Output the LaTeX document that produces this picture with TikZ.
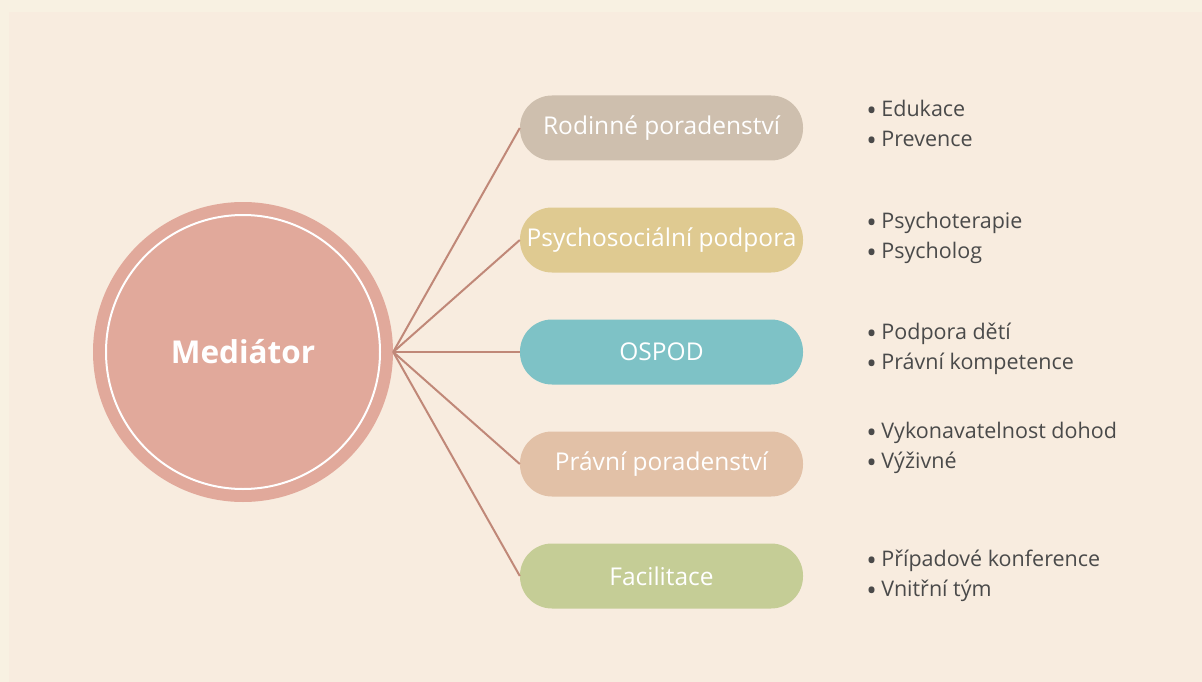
\documentclass[tikz,border=0pt]{standalone}
\usepackage{fontspec}
\setmainfont{Open Sans}
\usetikzlibrary{positioning}
\definecolor{bgout}{HTML}{F8F1E2}
\definecolor{bgin}{HTML}{F8ECDF}
\definecolor{medpink}{HTML}{E1A99B}
\definecolor{linkbrown}{HTML}{C08878}
\definecolor{itemgray}{HTML}{4A4A4A}
\definecolor{rodcol}{HTML}{CEBFAE}
\definecolor{psycol}{HTML}{DFCA91}
\definecolor{ospcol}{HTML}{7EC2C6}
\definecolor{pracol}{HTML}{E2C1A7}
\definecolor{faccol}{HTML}{C5CD96}
\tikzset{
    pill/.style={rectangle, rounded corners=32pt, minimum width=283pt, minimum height=65pt,
        inner sep=0pt, text=white, font=\fontsize{24.5}{28}\selectfont},
    items/.style={right=63pt of #1, anchor=west, align=left, inner sep=0pt,
        text=itemgray, font=\fontsize{21.5}{30}\selectfont},
    link/.style={draw=linkbrown, line width=2pt}
}
\newcommand{\itm}[1]{\makebox[15pt][l]{\raisebox{-0.2em}{\scalebox{1.3}{\textbullet}}}#1}

\begin{document}
\begin{tikzpicture}[x=1pt, y=-1pt]
            \useasboundingbox (0,0) rectangle (1202,682);
            \fill[bgout] (0,0) rectangle (1202,682);
            \fill[bgin] (9,12) rectangle (1202,682);
            \node[circle, fill=medpink, minimum size=300pt, inner sep=0pt] (med) at (243,352) {};
            \node[circle, draw=white, line width=2pt, minimum size=274pt, inner sep=0pt,
                text=white, font=\bfseries\fontsize{31.5}{36}\selectfont] (ring) at (med) {Mediátor};
            \node[pill, fill=rodcol] (rod) at (661.5,128) {Rodinné poradenství};
            \node[pill, fill=psycol] (psy) at (661.5,240) {Psychosociální podpora};
            \node[pill, fill=ospcol] (osp) at (661.5,352) {OSPOD};
            \node[pill, fill=pracol] (pra) at (661.5,464) {Právní poradenství};
            \node[pill, fill=faccol] (fac) at (661.5,576) {Facilitace};
            \foreach \p in {rod,psy,osp,pra,fac}
                \draw[link] (med.east) -- (\p.west);
            \node[items=rod, yshift=3pt] (rodlist) {\itm{Edukace}\\\itm{Prevence}};
            \node[items=psy, yshift=2pt] (psylist) {\itm{Psychoterapie}\\\itm{Psycholog}};
            \node[items=osp, yshift=3pt] (osplist) {\itm{Podpora dětí}\\\itm{Právní kompetence}};
            \node[items=pra, yshift=16pt] (pralist) {\itm{Vykonavatelnost dohod}\\\itm{Výživné}};
            \node[items=fac, yshift=0pt] (faclist) {\itm{Případové konference}\\\itm{Vnitřní tým}};
        \end{tikzpicture}
\end{document}
